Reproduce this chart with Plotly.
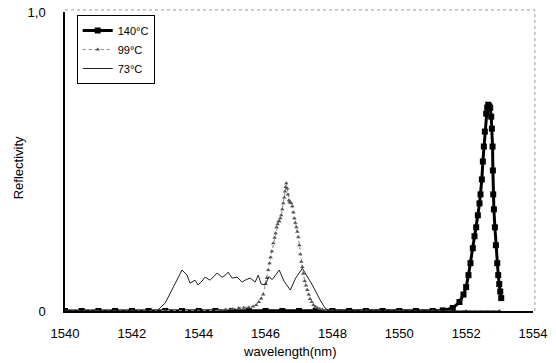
import plotly.graph_objects as go

# ---- data ----
x_ticks = [1540, 1542, 1544, 1546, 1548, 1550, 1552, 1554]
y_tick_vals = [0, 1.0]
y_tick_text = ["0", "1,0"]

wl_140 = [1540.0, 1540.5, 1541.0, 1541.5, 1542.0, 1542.5, 1543.0, 1543.5, 1544.0,
          1544.5, 1545.0, 1545.5, 1546.0, 1546.5, 1547.0, 1547.5, 1548.0, 1548.5,
          1549.0, 1549.5, 1550.0, 1550.5, 1551.0, 1551.3, 1551.6, 1551.8, 1551.92,
          1552.0, 1552.07, 1552.13, 1552.2, 1552.25, 1552.3, 1552.35, 1552.4, 1552.43,
          1552.47, 1552.5, 1552.53, 1552.56, 1552.6, 1552.63, 1552.66, 1552.69, 1552.72,
          1552.75, 1552.77, 1552.79, 1552.8, 1552.81, 1552.83, 1552.86, 1552.89, 1552.93,
          1552.96, 1552.99, 1553.02, 1553.05]
r_140 = [0.0, 0.0, 0.0, 0.0, 0.0, 0.0, 0.0, 0.0, 0.0,
         0.0, 0.0, 0.0, 0.0, 0.0, 0.0, 0.0, 0.0, 0.0,
         0.0, 0.0, 0.0, 0.0, 0.0, 0.002, 0.01, 0.03, 0.055,
         0.08, 0.12, 0.16, 0.21, 0.25, 0.28, 0.32, 0.36, 0.39,
         0.44, 0.50, 0.55, 0.60, 0.66, 0.68, 0.69, 0.685, 0.68,
         0.65, 0.61, 0.55, 0.47, 0.39, 0.34, 0.28, 0.22, 0.16,
         0.12, 0.09, 0.065, 0.043]

wl_99 = [1540.0, 1541.0, 1542.0, 1543.0, 1544.0, 1544.6, 1544.8, 1545.0, 1545.2,
         1545.35, 1545.5, 1545.63, 1545.72, 1545.8, 1545.87, 1545.93, 1546.0, 1546.04,
         1546.08, 1546.12, 1546.15, 1546.19, 1546.23, 1546.27, 1546.3, 1546.33, 1546.36,
         1546.39, 1546.41, 1546.44, 1546.47, 1546.5, 1546.53, 1546.56, 1546.58, 1546.6,
         1546.62, 1546.65, 1546.67, 1546.7, 1546.72, 1546.74, 1546.77, 1546.8, 1546.83,
         1546.86, 1546.89, 1546.92, 1546.95, 1546.98, 1547.01, 1547.04, 1547.07, 1547.1,
         1547.13, 1547.17, 1547.21, 1547.25, 1547.29, 1547.33, 1547.38, 1547.43, 1547.49,
         1547.55, 1547.62, 1547.7, 1547.8, 1548.0, 1549.0, 1550.0, 1551.0, 1552.0, 1553.0]
r_99 = [0.0, 0.0, 0.0, 0.0, 0.0, 0.002, 0.005, 0.007, 0.01,
        0.011, 0.012, 0.015, 0.02, 0.03, 0.042, 0.055, 0.09, 0.11,
        0.137, 0.16, 0.18, 0.2, 0.227, 0.245, 0.26, 0.28, 0.29,
        0.3, 0.30, 0.31, 0.32, 0.34, 0.36, 0.38, 0.40, 0.415,
        0.427, 0.41, 0.39, 0.37, 0.365, 0.363, 0.36, 0.35, 0.33,
        0.31, 0.295, 0.28, 0.265, 0.247, 0.22, 0.19, 0.165, 0.147,
        0.125, 0.10, 0.085, 0.07, 0.055, 0.04, 0.03, 0.02, 0.014,
        0.01, 0.007, 0.005, 0.003, 0.0, 0.0, 0.0, 0.0, 0.0, 0.0]

wl_73 = [1540.0, 1542.75, 1543.0, 1543.23, 1543.5, 1543.65, 1543.74, 1543.89, 1543.98,
         1544.1, 1544.19, 1544.34, 1544.45, 1544.55, 1544.7, 1544.8, 1544.88, 1545.0,
         1545.15, 1545.3, 1545.42, 1545.54, 1545.69, 1545.78, 1545.87, 1545.99, 1546.1,
         1546.2, 1546.41, 1546.55, 1546.74, 1546.9, 1547.1, 1547.25, 1547.4, 1547.63,
         1547.78, 1547.9, 1553.0]
r_73 = [0.0, 0.0, 0.027, 0.08, 0.137, 0.12, 0.093, 0.103, 0.087,
        0.10, 0.113, 0.103, 0.115, 0.127, 0.113, 0.12, 0.13, 0.11,
        0.113, 0.097, 0.105, 0.11, 0.097, 0.12, 0.09, 0.087, 0.115,
        0.105, 0.137, 0.10, 0.07, 0.11, 0.143, 0.115, 0.087, 0.037,
        0.01, 0.0, 0.0]

names = ["140°C", "99°C", "73°C"]
x_title = "wavelength(nm)"
y_title = "Reflectivity"

FONT = "Liberation Sans, Arial, sans-serif"

fig = go.Figure()
fig.add_trace(go.Scatter(
    x=wl_140, y=r_140, name=names[0], mode="lines+markers",
    line=dict(color="black", width=3),
    marker=dict(symbol="square", size=6, color="black"),
))
fig.add_trace(go.Scatter(
    x=wl_99, y=r_99, name=names[1], mode="lines+markers",
    line=dict(color="#888888", width=1, dash="dot"),
    marker=dict(symbol="triangle-up", size=4, color="#555555"),
))
fig.add_trace(go.Scatter(
    x=wl_73, y=r_73, name=names[2], mode="lines",
    line=dict(color="#222222", width=1),
))

# dotted grey top and right frame
fig.add_shape(type="line", xref="paper", yref="paper", x0=0, x1=1.004, y0=1.007, y1=1.007,
              line=dict(color="#999999", width=1, dash="dot"))
fig.add_shape(type="line", xref="paper", yref="paper", x0=1.004, x1=1.004, y0=0, y1=1.007,
              line=dict(color="#999999", width=1, dash="dot"))

# axis titles
fig.add_annotation(text=x_title, xref="paper", yref="paper", x=0.481, y=-0.137,
                   showarrow=False, xanchor="center", yanchor="middle",
                   font=dict(family=FONT, size=13, color="black"))
fig.add_annotation(text=y_title, xref="paper", yref="paper", x=-0.1, y=0.478,
                   showarrow=False, xanchor="center", yanchor="middle", textangle=-90,
                   font=dict(family=FONT, size=13, color="black"))

fig.update_layout(
    width=556, height=363,
    margin=dict(l=65, r=23, t=12, b=52, autoexpand=False),
    paper_bgcolor="white", plot_bgcolor="white",
    font=dict(family=FONT, size=13, color="black"),
    showlegend=True,
    legend=dict(
        x=0.025, y=0.99, xanchor="left", yanchor="top",
        bgcolor="white", bordercolor="black", borderwidth=1,
        font=dict(family=FONT, size=11, color="black"),
        itemwidth=30, tracegroupgap=0,
    ),
    xaxis=dict(
        range=[1540, 1554], tickvals=x_ticks, ticks="", showgrid=False,
        zeroline=False, showline=True, linecolor="black", linewidth=1.5,
        tickfont=dict(size=13), automargin=False, ticklabelstandoff=10,
        ticklabeloverflow="allow",
    ),
    yaxis=dict(
        range=[0, 1.0], tickvals=y_tick_vals, ticktext=y_tick_text, ticks="",
        showgrid=False, zeroline=False, showline=True, linecolor="black", linewidth=1.5,
        tickfont=dict(size=13), ticklabelstandoff=15, automargin=False,
        ticklabeloverflow="allow",
    ),
)

# remove the default 8px page margin so the figure fills the window exactly
fig.write_html("out.html", config={"displayModeBar": False},
               post_script="document.body.style.margin='0px';")
